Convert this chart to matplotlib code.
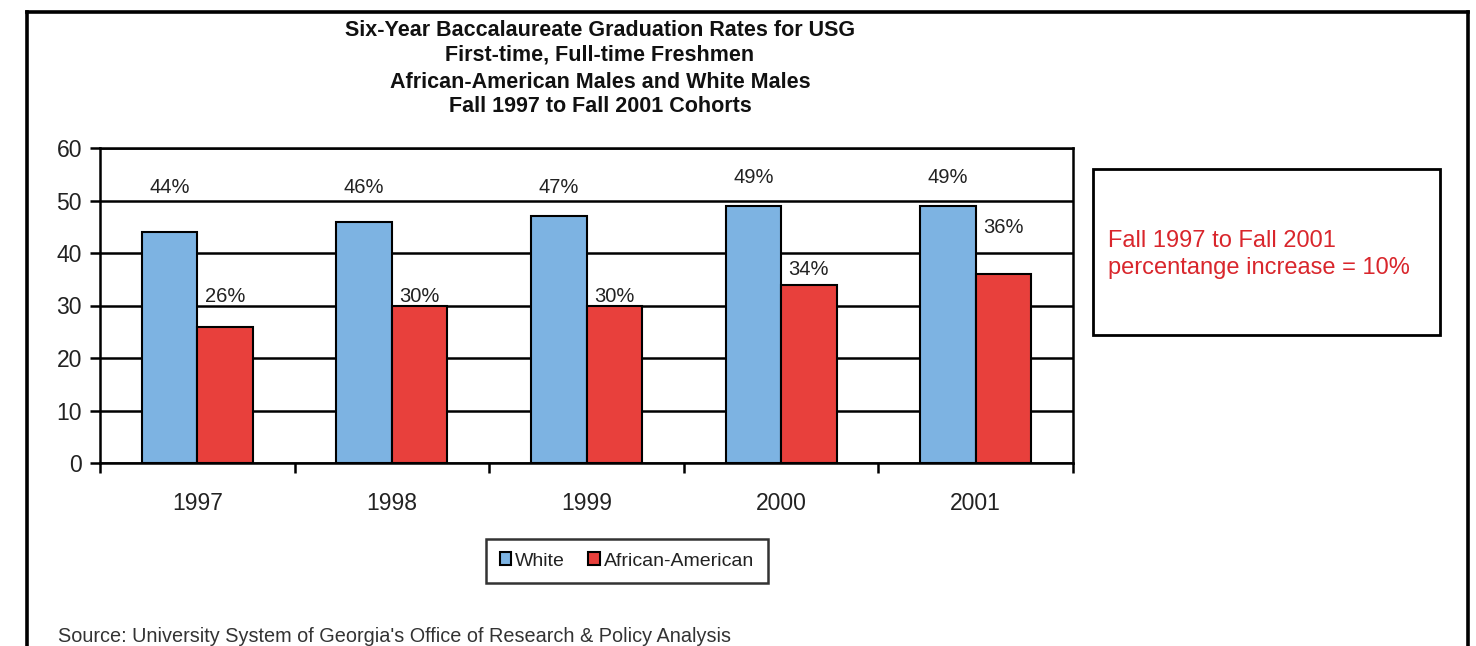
import matplotlib
matplotlib.use("Agg")
import matplotlib.pyplot as plt
from matplotlib.lines import Line2D
from matplotlib.patches import Rectangle
import numpy as np

years = ["1997", "1998", "1999", "2000", "2001"]
white = [44, 46, 47, 49, 49]
african_american = [26, 30, 30, 34, 36]
white_labels = ["44%", "46%", "47%", "49%", "49%"]
aa_labels = ["26%", "30%", "30%", "34%", "36%"]
yticks = [0, 10, 20, 30, 40, 50, 60]

# label heights (layout, data units) as in the original picture
white_label_y = [52.4, 52.4, 52.4, 54.3, 54.3]
aa_label_y = [31.8, 31.8, 31.8, 36.8, 44.8]

W, H = 1476, 646
fig = plt.figure(figsize=(W / 100, H / 100), dpi=100)
fig.patch.set_facecolor("white")
plt.rcParams["font.family"] = ["Liberation Sans", "DejaVu Sans"]

def fx(px):
    return px / W

def fy(py):
    return 1 - py / H

# outer frame (open at bottom)
for xs, ys in [([27, 27], [12, 646]), ([27, 1468], [12, 12]), ([1468, 1468], [12, 646])]:
    fig.add_artist(Line2D([fx(x) for x in xs], [fy(y) for y in ys], color="black", lw=2.6,
                          transform=fig.transFigure))

ax = fig.add_axes([fx(100), fy(463), fx(1073) - fx(100), fy(148) - fy(463)])
n = len(years)
x = np.arange(n)
bw = 0.285
ax.bar(x - bw / 2, white, bw, color="#7DB3E2", edgecolor="black", linewidth=1.5, zorder=3, label="White")
ax.bar(x + bw / 2, african_american, bw, color="#E8403C", edgecolor="black", linewidth=1.5, zorder=3,
       label="African-American")

ax.set_xlim(-0.5, n - 0.5)
ax.set_ylim(0, 60)
ax.set_yticks(yticks)
ax.set_yticklabels([str(v) for v in yticks], fontsize=16.5, color="#222222")
ax.yaxis.grid(True, color="black", linewidth=1.8, zorder=1)
ax.set_axisbelow(True)
ax.tick_params(axis="y", length=7, width=1.8, pad=6)

ax.set_xticks(x)
ax.set_xticklabels(years, fontsize=16.5, color="#222222")
ax.tick_params(axis="x", length=0, pad=21)
ax.set_xticks(np.arange(n + 1) - 0.5, minor=True)
ax.tick_params(axis="x", which="minor", length=7, width=1.8)

for s in ["left", "right", "top", "bottom"]:
    ax.spines[s].set_linewidth(1.8)
    ax.spines[s].set_color("black")

for i in range(n):
    ax.text(x[i] - bw / 2, white_label_y[i], white_labels[i], ha="center", va="center",
            fontsize=14.5, color="#222222")
    ax.text(x[i] + bw / 2, aa_label_y[i], aa_labels[i], ha="center", va="center",
            fontsize=14.5, color="#222222")

# title
title_lines = ["Six-Year Baccalaureate Graduation Rates for USG",
               "First-time, Full-time Freshmen",
               "African-American Males and White Males",
               "Fall 1997 to Fall 2001 Cohorts"]
for t, py in zip(title_lines, [31, 55, 82, 107]):
    fig.text(fx(600), fy(py), t, ha="center", va="center", fontsize=15.5, fontweight="bold",
             color="#111111")

# legend
leg = ax.legend(loc="center", bbox_to_anchor=(fx(627), fy(561)), bbox_transform=fig.transFigure,
                ncol=2, frameon=True, fancybox=False, fontsize=14, handlelength=0.6, handleheight=0.6,
                handletextpad=0.2, columnspacing=1.2, borderpad=0.7)
leg.get_frame().set_edgecolor("black")
leg.get_frame().set_linewidth(1.8)
for txt in leg.get_texts():
    txt.set_color("#222222")

# source
fig.text(fx(58), fy(636), "Source: University System of Georgia's Office of Research & Policy Analysis",
         ha="left", va="center", fontsize=14.3, color="#333333")

# annotation box
fig.add_artist(Rectangle((fx(1093), fy(335)), fx(1440) - fx(1093), fy(169) - fy(335),
                         transform=fig.transFigure, fill=False, edgecolor="black", linewidth=2))
fig.text(fx(1108), fy(241), "Fall 1997 to Fall 2001", ha="left", va="center", fontsize=17, color="#D9262C")
fig.text(fx(1108), fy(268), "percentange increase = 10%", ha="left", va="center", fontsize=17,
         color="#D9262C")

fig.savefig("out.png", dpi=100, facecolor="white")
